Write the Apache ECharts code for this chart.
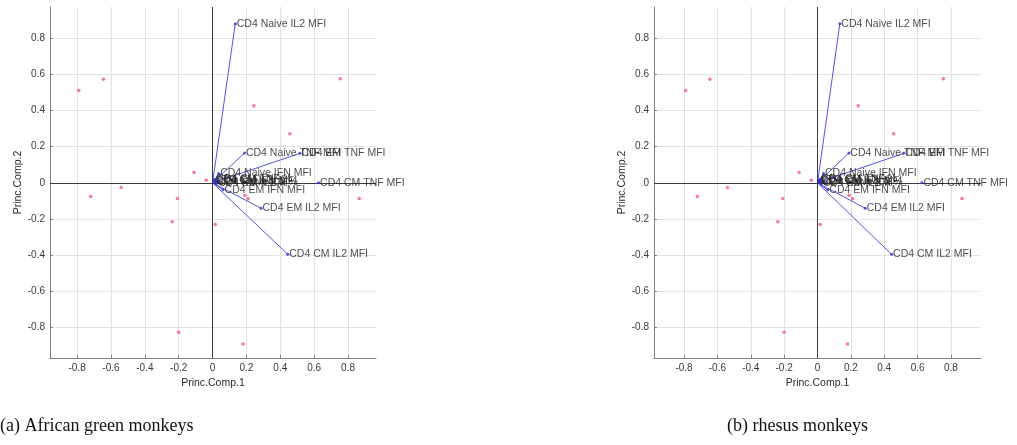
<!DOCTYPE html>
<html>
<head>
<meta charset="utf-8">
<script src="https://cdn.jsdelivr.net/npm/echarts@6/dist/echarts.min.js"></script>
<style>
  html, body { margin: 0; padding: 0; background: #ffffff; }
  #chart { width: 1017px; height: 445px; }
</style>
</head>
<body>
<div id="chart"></div>
<script>
// Tick positions shared by both component axes
const tickValues = [-0.8, -0.6, -0.4, -0.2, 0, 0.2, 0.4, 0.6, 0.8];

// Observation scores (principal components 1 and 2)
const obsX = [-0.79, -0.645, 0.754, 0.244, 0.456, -0.11, -0.037, -0.72, -0.54, -0.208, 0.19, 0.21, 0.866, -0.238, 0.016, -0.2, 0.18];
const obsY = [0.51, 0.573, 0.576, 0.426, 0.272, 0.057, 0.015, -0.075, -0.025, -0.087, -0.068, -0.088, -0.087, -0.215, -0.23, -0.825, -0.89];

// Variable loadings drawn as vectors from the origin
const varNames = [
  'CD4 Naive IL2 MFI', 'CD4 Naive TNF MFI', 'CD4 EM TNF MFI', 'CD4 CM TNF MFI',
  'CD4 EM IL2 MFI', 'CD4 CM IL2 MFI', 'CD4 EM IFN MFI', 'CD4 Naive IFN MFI',
  'CD4 CM IFN MFI', 'CD4 Naive IL2 %', 'CD4 CM IL2 %', 'CD4 EM IL2 %', 'CD4 CM TNF %'
];
const varX = [0.134, 0.188, 0.516, 0.626, 0.286, 0.444, 0.062, 0.036, 0.012, 0.018, 0.008, 0.024, 0.014];
const varY = [0.88, 0.165, 0.163, 0.0, -0.14, -0.395, -0.038, 0.052, 0.008, 0.002, 0.014, -0.004, 0.018];

const panelCaptions = ['(a) African green monkeys', '(b) rhesus monkeys'];
const xTitle = 'Princ.Comp.1';
const yTitle = 'Princ.Comp.2';

const panels = [
  { grid: { left: 50, top: 7, width: 326, height: 351 }, xMin: -0.96, xMax: 0.965, captionX: 0 },
  { grid: { left: 654, top: 7, width: 327, height: 351 }, xMin: -0.98, xMax: 0.98, captionX: 727 }
];
const yMin = -0.968, yMax = 0.972;

const sansFont = '"Liberation Sans", Arial, sans-serif';
const axisColor = '#808080';
const fmt = v => (v === 0 ? '0' : String(Math.round(v * 10) / 10));

function makeAxis(i, isX, min, max) {
  return {
    gridIndex: i,
    type: 'value',
    min: min,
    max: max,
    name: isX ? xTitle : yTitle,
    nameLocation: 'middle',
    nameGap: isX ? 15 : 23,
    nameRotate: isX ? 0 : 90,
    nameTextStyle: { fontFamily: sansFont, fontSize: 10.5, color: '#2a2a2a' },
    axisLine: { show: true, onZero: false, lineStyle: { color: axisColor, width: 1 } },
    axisTick: { show: true, inside: true, length: 3, customValues: tickValues, lineStyle: { color: axisColor } },
    axisLabel: { customValues: tickValues, formatter: fmt, fontFamily: sansFont, fontSize: 10, color: '#3a3a3a', margin: 5 },
    splitLine: { show: true, lineStyle: { color: '#e2e2e2', width: 1 } }
  };
}

const grids = [], xAxes = [], yAxes = [], series = [], graphics = [];

panels.forEach((p, i) => {
  grids.push(p.grid);
  xAxes.push(makeAxis(i, true, p.xMin, p.xMax));
  yAxes.push(makeAxis(i, false, yMin, yMax));

  // zero reference lines across the plot area
  series.push({
    type: 'scatter', xAxisIndex: i, yAxisIndex: i, data: [], silent: true, z: 1,
    markLine: {
      silent: true, symbol: ['none', 'none'], animation: false,
      lineStyle: { color: '#3a3a3a', width: 1, type: 'solid' },
      label: { show: false },
      data: [{ xAxis: 0 }, { yAxis: 0 }]
    }
  });

  // loading vectors
  series.push({
    type: 'lines', coordinateSystem: 'cartesian2d', xAxisIndex: i, yAxisIndex: i,
    silent: true, z: 3, animation: false,
    lineStyle: { color: '#5555dd', width: 1, opacity: 1 },
    data: varX.map((x, k) => ({ coords: [[0, 0], [x, varY[k]]] }))
  });

  // observation markers
  series.push({
    type: 'scatter', xAxisIndex: i, yAxisIndex: i, silent: true, z: 4, animation: false,
    symbol: 'circle', symbolSize: 3.5,
    itemStyle: { color: '#f25a76' },
    data: obsX.map((x, k) => [x, obsY[k]])
  });

  // vector end points and their variable names
  series.push({
    type: 'scatter', xAxisIndex: i, yAxisIndex: i, silent: true, z: 5, animation: false,
    symbol: 'circle', symbolSize: 3,
    itemStyle: { color: '#2b2bd0' },
    label: {
      show: true, position: 'right', distance: 0, formatter: '{b}',
      fontFamily: sansFont, fontSize: 10.5, color: '#1c1c1c'
    },
    data: varX.map((x, k) => ({ name: varNames[k], value: [x, varY[k]] }))
  });

  graphics.push({
    type: 'text', left: p.captionX, top: 417,
    style: { text: panelCaptions[i], font: '18px "Liberation Serif", "Times New Roman", serif', fill: '#111' }
  });
});

const chart = echarts.init(document.getElementById('chart'), null, { renderer: 'canvas' });
chart.setOption({
  animation: false,
  backgroundColor: '#ffffff',
  grid: grids,
  xAxis: xAxes,
  yAxis: yAxes,
  series: series,
  graphic: graphics
});
</script>
</body>
</html>
